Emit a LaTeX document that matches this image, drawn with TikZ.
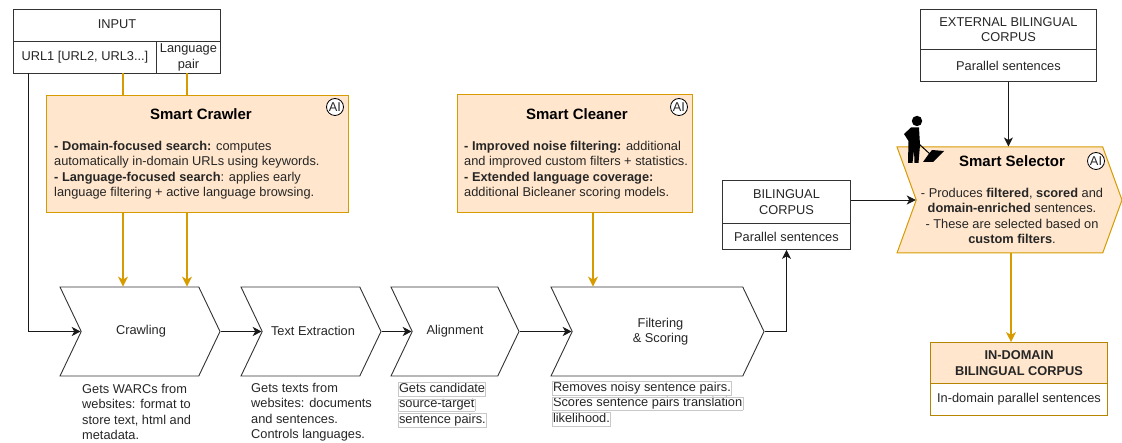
\documentclass[tikz,border=0pt]{standalone}
\usepackage{fontspec}
\setmainfont{Liberation Sans}
\usetikzlibrary{arrows.meta,shapes.symbols,calc}
\definecolor{goldline}{HTML}{D79B00}
\definecolor{goldfill}{HTML}{FFE6CC}
\definecolor{inkline}{HTML}{333333}
\definecolor{hlgray}{HTML}{C8C8C8}
\newcommand{\hlline}[1]{\smash{\fboxsep=0.3pt\fboxrule=0.5pt\fcolorbox{hlgray}{white}{\rule[-3.2pt]{0pt}{10.8pt}#1}}}
\tikzset{
  x=1pt,y=-1pt,
  every node/.style={font=\fontsize{12.8}{15.5}\selectfont,text=black!85},
  cell/.style={draw=inkline,line width=0.9pt,fill=white,anchor=north west,inner sep=0pt,align=center},
  goldcell/.style={cell,draw=goldline!85!black,line width=1pt},
  smart/.style={draw=goldline,line width=1pt,fill=goldfill,anchor=north west,inner sep=0pt},
  chev/.style={signal,signal from=west,signal to=east,draw=inkline,line width=0.9pt,fill=white,inner sep=0pt,align=center},
  aimark/.style={circle,draw=black,line width=0.8pt,fill=white,inner sep=0pt,minimum size=17pt,font=\fontsize{12.8}{13}\selectfont},
  title/.style={font=\bfseries\fontsize{15}{17}\selectfont,text=black},
  body/.style={align=left,inner sep=0pt,anchor=north west},
  flow/.style={draw=black!90,line width=0.9pt,-{Stealth[length=9pt,width=9pt,inset=2.5pt]}},
  goldflow/.style={draw=goldline,line width=1.2pt,-{Stealth[length=10pt,width=10pt,inset=3pt]}},
}
\begin{document}
\begin{tikzpicture}
\useasboundingbox (0,0) rectangle (1122,443);

% free ends
\coordinate (gA) at (123,73);
\coordinate (gB) at (187,73);
\coordinate (bA) at (28,73);

% process chevrons
\node[chev,minimum width=160pt,minimum height=89pt,signal pointer angle=129] (crawling) at (140,331.5) {\hspace*{2pt}\raisebox{1pt}{Crawling}};
\node[chev,minimum width=140pt,minimum height=89pt,signal pointer angle=129] (extract) at (311,331.5) {\hspace*{4pt}\raisebox{1pt}{Text Extraction}};
\node[chev,minimum width=128pt,minimum height=89pt,signal pointer angle=129] (align) at (455,331.5) {\raisebox{1pt}{Alignment}};
\node[chev,minimum width=213pt,minimum height=89pt,signal pointer angle=129] (filter) at (657.5,331.5) {\hspace*{6pt}\raisebox{1.5pt}{Filtering}\\\hspace*{6pt}\raisebox{1.5pt}{\& Scoring}};
\draw[flow] (crawling.east) -- (extract.west);
\draw[flow] (extract.east) -- (align.west);
\draw[flow] (align.east) -- (filter.west);

% input table
\node[cell,minimum width=207pt,minimum height=32pt] (input) at (13,9) {\raisebox{2pt}{INPUT}};
\node[cell,minimum width=143pt,minimum height=32pt] (inurl) at (13,41) {URL1 [URL2, URL3...]};
\node[cell,minimum width=64pt,minimum height=32pt] (inpair) at (156,41) {Language\\pair};

% gold lines pass behind the crawler box
\draw[goldflow] (gA) -- (gA |- crawling.north);
\draw[goldflow] (gB) -- (gB |- crawling.north);
\draw[flow] (bA) |- (crawling.west);

% smart crawler
\node[smart,minimum width=302pt,minimum height=117pt] (crawler) at (46,95) {};
\node[title] (crawlertitle) at (201,114.5) {Smart Crawler};
\node[body] (crawlertext) at (54,141) {\textbf{- Domain-focused search:} computes\\automatically in-domain URLs using keywords.\\\textbf{- Language-focused search}: applies early\\language filtering + active language browsing.};
\node[aimark] (aiA) at (335,107) {AI};

% smart cleaner
\node[smart,minimum width=235pt,minimum height=118pt] (cleaner) at (457,94) {};
\node[title] (cleanertitle) at (577,114) {Smart Cleaner};
\node[body] (cleanertext) at (464,141) {\textbf{- Improved noise filtering:} additional\\and improved custom filters + statistics.\\\textbf{- Extended language coverage:}\\additional Bicleaner scoring models.};
\node[aimark] (aiB) at (679,107) {AI};
\draw[goldflow] (cleaner.south -| 593,0) -- (593,287 |- filter.north);

% bilingual corpus
\node[cell,minimum width=128pt,minimum height=43pt] (bil) at (722,180) {BILINGUAL\\CORPUS};
\node[cell,minimum width=128pt,minimum height=26pt] (bilpar) at (722,223) {Parallel sentences};
\draw[flow] (filter.east) -| (bilpar.south);

% external corpus
\node[cell,minimum width=176pt,minimum height=40pt] (ext) at (920,9) {EXTERNAL BILINGUAL\\CORPUS};
\node[cell,minimum width=176pt,minimum height=32pt] (extpar) at (920,49) {Parallel sentences};

% smart selector
\node[chev,draw=goldline,line width=1pt,fill=goldfill,minimum width=225pt,minimum height=106pt,signal pointer angle=140] (selector) at (1009.5,200) {};
\node[title] (selectortitle) at (1012,161) {Smart Selector};
\node[align=center,inner sep=0pt] (selectortext) at (1012,216) {- Produces \textbf{filtered}, \textbf{scored} and\\\textbf{domain-enriched} sentences.\\- These are selected based on\\\textbf{custom filters}.};
\node[aimark] (aiC) at (1096,161) {AI};
\draw[flow] (extpar.south) -- (selector.north -| extpar.south);
\draw[flow] (bil.east |- 722,200) -- (selector.west);

% worker figure
\fill[black] (917,121) circle (5.2);
\fill[black] (911,127.5) -- (919,127.5) -- (920,145) -- (918.5,163) -- (914.5,163) -- (914,150) -- (912.5,163) -- (908,163) -- (908.5,141) -- (904,134) -- cycle;
\draw[black,line width=1pt] (919,144) -- (931,155);
\fill[black] (923,162) -- (933,162) -- (944,151) -- (932,150) -- (928,155) -- cycle;

% in-domain corpus
\node[goldcell,fill=goldfill,minimum width=177pt,minimum height=41pt] (dom) at (930,342) {\textbf{IN-DOMAIN}\\\textbf{BILINGUAL CORPUS}};
\node[goldcell,minimum width=177pt,minimum height=32pt] (dompar) at (930,383) {In-domain parallel sentences};
\draw[goldflow] (selector.south -| 1011,0) -- (1011,342 |- dom.north);

% notes
\node[body] (noteA) at (82,384) {Gets WARCs from\\websites: format to\\store text, html and\\metadata.};
\node[body] (noteB) at (251,383) {Gets texts from\\websites: documents\\and sentences.\\Controls languages.};
\node[body] (noteC) at (398,392) {\hlline{Gets candidate}\\\hlline{source-target}\\\hlline{sentence pairs.}};
\node[body] (noteD) at (552,391) {\hlline{Removes noisy sentence pairs.}\\\hlline{Scores sentence pairs translation}\\\hlline{likelihood.}};
\end{tikzpicture}
\end{document}
